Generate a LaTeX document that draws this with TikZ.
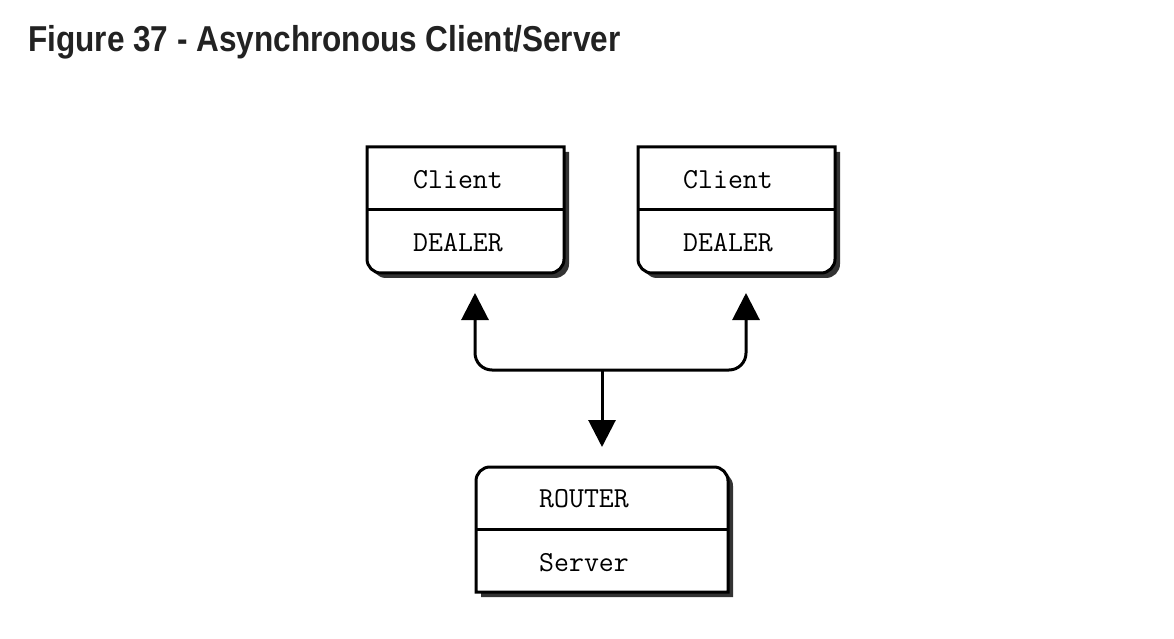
\documentclass[tikz,border=0pt]{standalone}
\usepackage{fontspec}
\usetikzlibrary{arrows.meta,calc}
\newfontfamily\titlefont{Liberation Sans}
\definecolor{titlecol}{HTML}{222222}
\definecolor{shadecol}{HTML}{333333}
% client shape: square top, rounded bottom
\newcommand\cboxpath[3]{($(#1.north west)+(#2,#3)$) -- ($(#1.north east)+(#2,#3)$) -- ($(#1.south east)+(#2,#3+14)$) arc[start angle=0,end angle=-90,radius=14] -- ($(#1.south west)+(#2+14,#3)$) arc[start angle=270,end angle=180,radius=14] -- cycle}
% router shape: rounded top, square bottom
\newcommand\rboxpath[3]{($(#1.south west)+(#2,#3)$) -- ($(#1.south east)+(#2,#3)$) -- ($(#1.north east)+(#2,#3-14)$) arc[start angle=0,end angle=90,radius=14] -- ($(#1.north west)+(#2+14,#3)$) arc[start angle=90,end angle=180,radius=14] -- cycle}
\begin{document}
\begin{tikzpicture}[x=1pt,y=1pt,
  area/.style={draw=none,inner sep=0pt,outer sep=0pt},
  cliarea/.style={area,minimum width=197pt,minimum height=126pt},
  rtrarea/.style={area,minimum width=252pt,minimum height=125pt},
  boxline/.style={draw=black,line width=3pt,fill=white},
  shade/.style={fill=shadecol},
  lbl/.style={font=\ttfamily\fontsize{29}{32}\selectfont,inner sep=0pt},
  conn/.style={draw=black,line width=3pt},
  tip/.style={-{Triangle[width=27pt,length=27pt]}},
  tips/.style={{Triangle[width=27pt,length=27pt]}-{Triangle[width=27pt,length=27pt]}}
]
\useasboundingbox (0,0) rectangle (1174,638);
\node[anchor=base west,inner sep=0pt,text=titlecol,font=\titlefont\bfseries\fontsize{36}{40}\selectfont] (title) at (28,586) {\scalebox{0.876}[1]{Figure 37 - Asynchronous Client/Server}};

\node[cliarea] (c1) at (465.5,428) {};
\node[cliarea] (c2) at (736.5,428) {};
\node[rtrarea] (r) at (602,108.5) {};

\fill[shade] \cboxpath{c1}{5}{-5};
\draw[boxline] \cboxpath{c1}{0}{0};
\draw[boxline] (c1.west) -- (c1.east);
\fill[shade] \cboxpath{c2}{5}{-5};
\draw[boxline] \cboxpath{c2}{0}{0};
\draw[boxline] (c2.west) -- (c2.east);
\fill[shade] \rboxpath{r}{5}{-5};
\draw[boxline] \rboxpath{r}{0}{0};
\draw[boxline] (r.west) -- (r.east);

\node[lbl] (c1a) at (458,458) {Client};
\node[lbl] (c1b) at (458,395) {DEALER};
\node[lbl] (c2a) at (728,458) {Client};
\node[lbl] (c2b) at (728,395) {DEALER};
\node[lbl] (ra) at (584,139) {ROUTER};
\node[lbl] (rb) at (584,75) {Server};

\coordinate (j) at (602,268);
\draw[conn,tips,rounded corners=17pt] ([shift={(9.5,-20)}]c1.south) |- (j) -| ([shift={(9.5,-20)}]c2.south);
\draw[conn,tip] (j) -- ([yshift=20pt]r.north);
\end{tikzpicture}
\end{document}
